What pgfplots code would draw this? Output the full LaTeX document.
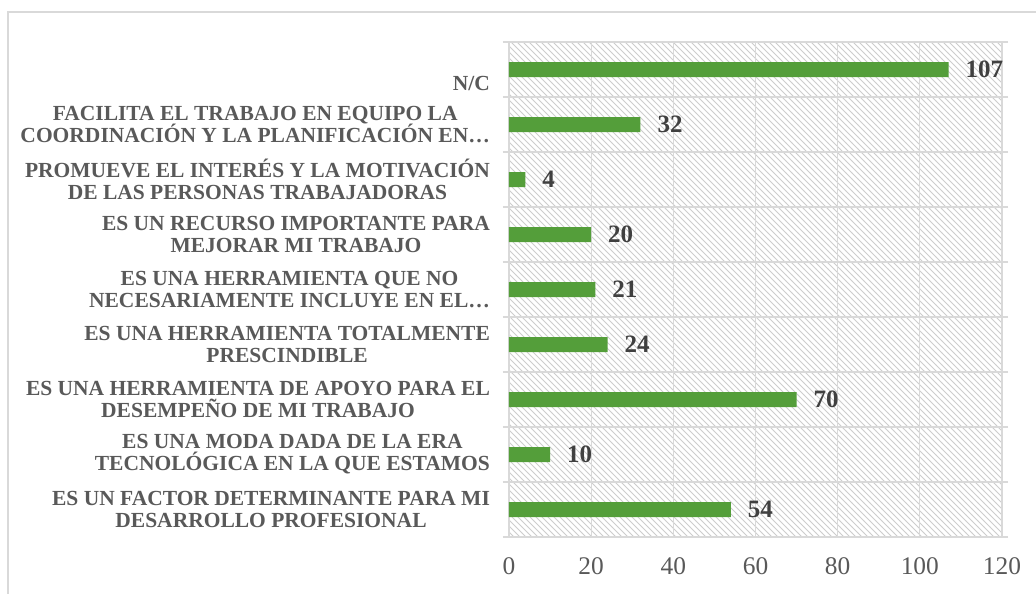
\documentclass[border=0pt]{standalone}
\usepackage{pgfplots}
\pgfplotsset{compat=1.18}
\usepackage{fontspec}
\setmainfont{Liberation Serif}
\usetikzlibrary{patterns}
\definecolor{bargreen}{RGB}{84,158,58}
\definecolor{txtgray}{RGB}{89,89,89}
\definecolor{lblgray}{RGB}{64,64,64}
\definecolor{gridgray}{RGB}{217,217,217}
\definecolor{hatchgray}{RGB}{205,205,205}
\begin{document}
\begin{tikzpicture}
\useasboundingbox (-254.5pt,-28pt) rectangle (263.5pt,268.5pt);
\draw[gridgray, line width=0.9pt] (-250.5pt,-40pt) -- (-250.5pt,262.5pt) -- (280pt,262.5pt);
\begin{axis}[
  at={(0,0)}, anchor=south west,
  width=246.5pt, height=247.5pt, scale only axis,
  xbar, bar width=7.5pt,
  xmin=0, xmax=120, ymin=-0.5, ymax=8.5,
  xtick={0,20,...,120},
  ytick={0,...,8},
  minor ytick={-0.5,0.5,...,8.5},
  yticklabels={
    {ES UN FACTOR DETERMINANTE PARA MI\\DESARROLLO PROFESIONAL},
    {ES UNA MODA DADA DE LA ERA\\TECNOLÓGICA EN LA QUE ESTAMOS},
    {ES UNA HERRAMIENTA DE APOYO PARA EL\\DESEMPEÑO DE MI TRABAJO},
    {ES UNA HERRAMIENTA TOTALMENTE\\PRESCINDIBLE},
    {ES UNA HERRAMIENTA QUE NO\\NECESARIAMENTE INCLUYE EN EL…},
    {ES UN RECURSO IMPORTANTE PARA\\MEJORAR MI TRABAJO},
    {PROMUEVE EL INTERÉS Y LA MOTIVACIÓN\\DE LAS PERSONAS TRABAJADORAS},
    {FACILITA EL TRABAJO EN EQUIPO LA\\COORDINACIÓN Y LA PLANIFICACIÓN EN…},
    {\raisebox{-10.5pt}[0pt][0pt]{N/C}}
  },
  yticklabel style={align=center, font=\fontsize{10.75}{11}\selectfont\bfseries, text=txtgray, xshift=-6pt},
  xticklabel style={font=\fontsize{12.7}{14}\selectfont, text=txtgray, yshift=-7pt},
  /pgf/number format/assume math mode=true,
  xmajorgrids, yminorgrids,
  grid style={gridgray, line width=0.6pt},
  minor grid style={gridgray, line width=0.6pt},
  axis line style={gridgray, line width=0.6pt},
  major tick length=0pt,
  minor tick length=3pt,
  tick align=outside,
  minor tick style={gridgray, line width=0.6pt},
  major tick style={draw=none},
  axis background/.style={pattern=north west lines, pattern color=hatchgray},
  nodes near coords,
  nodes near coords style={font=\fontsize{12.5}{14}\selectfont\bfseries, text=lblgray, anchor=west, xshift=5pt},
]
\addplot[fill=bargreen, draw=none] coordinates {
  (54,0) (10,1) (70,2) (24,3) (21,4) (20,5) (4,6) (32,7) (107,8)
};
\end{axis}
\end{tikzpicture}
\end{document}
